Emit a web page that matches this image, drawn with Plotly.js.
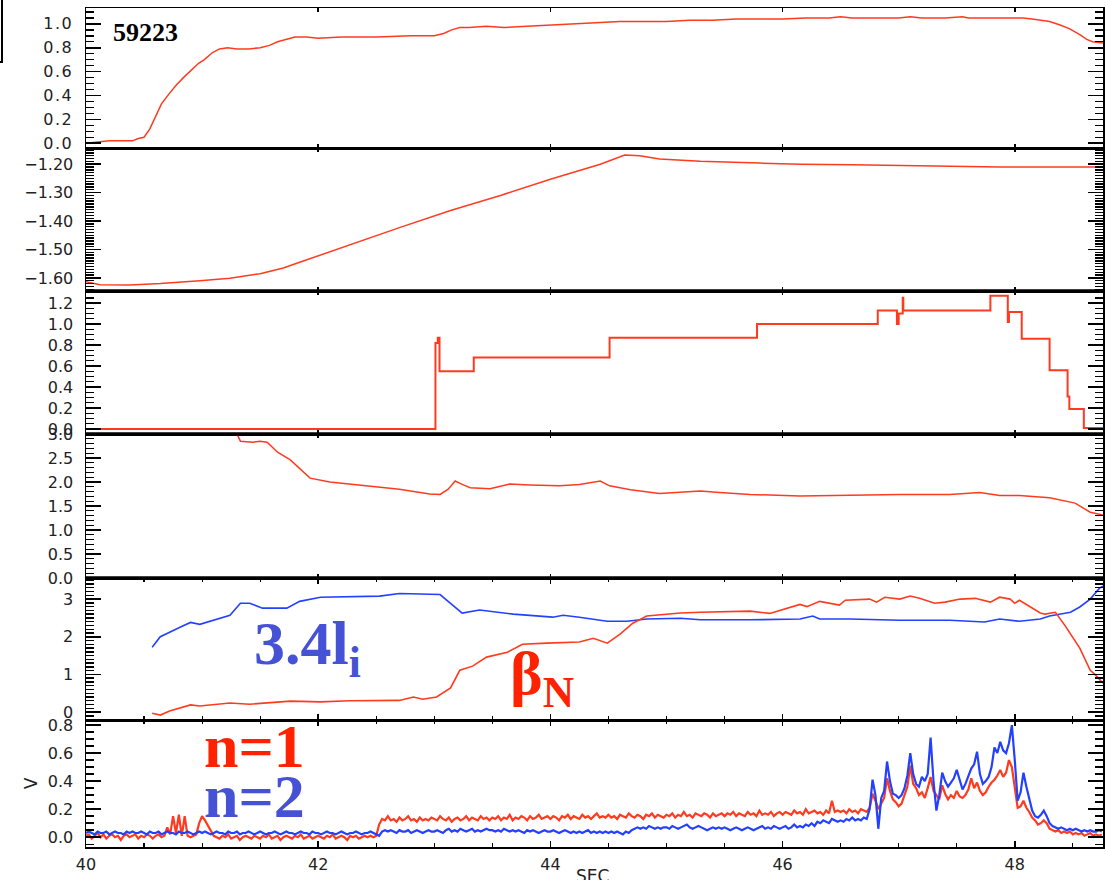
<!DOCTYPE html>
<html>
<head>
<meta charset="utf-8">
<script src="https://cdn.plot.ly/plotly-3.0.1.min.js"></script>
<style>
  html, body { margin: 0; padding: 0; background: #fff; }
  #plot { width: 1106px; height: 880px; }
  .xtick text, .ytick text { letter-spacing: 1.5px; }
</style>
</head>
<body>
<div id="plot"></div>
<script>
// Shot 59223: six stacked time traces against time in seconds.

const shotLabel = '59223';
const timeAxisTitle = 'SEC';

// Panel 1: plasma current (normalised)
const currentPts = [
  [40.00,0.00],[40.10,0.01],[40.20,0.02],[40.30,0.02],[40.40,0.02],[40.45,0.04],[40.50,0.05],
  [40.55,0.12],[40.60,0.22],[40.65,0.33],[40.72,0.42],[40.78,0.49],[40.85,0.56],[40.92,0.62],
  [40.97,0.67],[41.02,0.70],[41.09,0.76],[41.15,0.79],[41.22,0.80],[41.30,0.79],[41.40,0.79],
  [41.50,0.80],[41.58,0.82],[41.65,0.85],[41.72,0.87],[41.80,0.89],[41.90,0.89],[42.00,0.88],
  [42.20,0.89],[42.50,0.89],[42.80,0.90],[43.00,0.90],[43.08,0.92],[43.15,0.95],[43.22,0.97],
  [43.30,0.97],[43.45,0.98],[43.60,0.97],[43.80,0.98],[44.00,0.99],[44.20,1.00],[44.40,1.01],
  [44.60,1.02],[44.80,1.02],[45.00,1.02],[45.20,1.03],[45.40,1.03],[45.60,1.04],[45.80,1.04],
  [46.00,1.04],[46.20,1.05],[46.40,1.05],[46.50,1.06],[46.60,1.05],[46.80,1.05],[47.00,1.05],
  [47.10,1.06],[47.20,1.05],[47.40,1.05],[47.55,1.06],[47.60,1.05],[47.80,1.05],[48.00,1.05],
  [48.07,1.05],[48.15,1.04],[48.22,1.03],[48.30,1.02],[48.39,0.99],[48.47,0.96],[48.56,0.91],
  [48.62,0.87],[48.67,0.85],[48.76,0.84]
];

// Panel 2
const panel2Pts = [
  [40.00,-1.613],[40.12,-1.624],[40.38,-1.625],[40.64,-1.620],[40.98,-1.610],[41.24,-1.601],
  [41.50,-1.585],[41.70,-1.565],[41.84,-1.545],[42.27,-1.483],[42.70,-1.423],[43.14,-1.363],
  [43.57,-1.310],[44.00,-1.253],[44.43,-1.200],[44.64,-1.168],[44.77,-1.170],[44.94,-1.182],
  [45.29,-1.190],[45.80,-1.196],[46.15,-1.200],[46.60,-1.202],[47.01,-1.205],[47.50,-1.207],
  [47.87,-1.210],[48.30,-1.210],[48.76,-1.210]
];

// Panel 3: stepped programme (drawn with horizontal-then-vertical steps)
const stepPts = [
  [40.00,0.00],[43.010,0.82],[43.030,0.87],[43.045,0.55],[43.340,0.68],[44.510,0.87],
  [45.780,1.00],[46.820,1.13],[46.985,1.00],[47.000,1.10],[47.035,1.25],[47.040,1.13],
  [47.790,1.27],[47.940,1.02],[47.950,1.115],[48.060,0.86],[48.300,0.56],[48.455,0.31],
  [48.470,0.19],[48.595,0.01],[48.760,0.01]
];

// Panel 4
const panel4Pts = [
  [41.30,3.00],[41.33,2.85],[41.44,2.83],[41.50,2.85],[41.56,2.83],[41.65,2.62],[41.76,2.46],
  [41.84,2.29],[41.93,2.08],[42.10,2.00],[42.36,1.94],[42.70,1.85],[42.96,1.75],[43.05,1.74],
  [43.12,1.85],[43.18,2.02],[43.24,1.95],[43.31,1.88],[43.48,1.86],[43.65,1.96],[43.82,1.94],
  [44.08,1.92],[44.25,1.95],[44.43,2.02],[44.51,1.92],[44.69,1.84],[44.94,1.76],[45.29,1.81],
  [45.46,1.78],[45.72,1.74],[46.15,1.71],[46.58,1.73],[47.01,1.74],[47.44,1.74],[47.70,1.78],
  [47.87,1.72],[48.04,1.72],[48.30,1.67],[48.52,1.56],[48.65,1.37],[48.76,1.31]
];

// Panel 5: 3.4 li (blue) and beta_N (red)
const liPts = [
  [40.57,1.72],[40.64,2.00],[40.81,2.25],[40.90,2.38],[40.98,2.33],[41.09,2.44],[41.24,2.57],
  [41.33,2.89],[41.41,2.89],[41.52,2.76],[41.73,2.76],[41.84,2.94],[42.02,3.05],[42.53,3.08],
  [42.70,3.15],[43.05,3.12],[43.11,2.97],[43.24,2.63],[43.39,2.71],[43.68,2.60],[44.02,2.52],
  [44.11,2.57],[44.25,2.52],[44.49,2.41],[44.66,2.41],[44.83,2.47],[45.12,2.49],[45.29,2.45],
  [45.72,2.45],[46.15,2.47],[46.26,2.55],[46.32,2.47],[46.58,2.47],[47.01,2.44],[47.44,2.44],
  [47.74,2.39],[47.87,2.47],[48.04,2.41],[48.22,2.47],[48.30,2.55],[48.48,2.65],[48.56,2.79],
  [48.65,3.00],[48.73,3.29],[48.76,3.34]
];
const betaPts = [
  [40.57,-0.03],[40.64,-0.08],[40.72,0.03],[40.90,0.19],[40.98,0.16],[41.24,0.24],[41.41,0.21],
  [41.76,0.29],[42.02,0.27],[42.27,0.30],[42.70,0.31],[42.82,0.40],[42.90,0.34],[43.02,0.40],
  [43.14,0.64],[43.22,1.11],[43.33,1.22],[43.45,1.46],[43.63,1.59],[43.76,1.80],[43.97,1.83],
  [44.25,1.86],[44.37,1.96],[44.49,1.83],[44.60,2.07],[44.71,2.36],[44.83,2.55],[45.12,2.63],
  [45.29,2.65],[45.72,2.68],[45.89,2.62],[46.15,2.86],[46.21,2.80],[46.32,2.94],[46.49,2.84],
  [46.54,2.97],[46.75,3.00],[46.81,2.92],[46.88,3.05],[47.01,3.00],[47.10,3.08],[47.18,3.02],
  [47.31,2.89],[47.40,2.92],[47.53,3.00],[47.66,3.02],[47.79,2.92],[47.87,3.05],[47.96,3.00],
  [48.00,2.89],[48.04,2.97],[48.13,2.81],[48.22,2.63],[48.26,2.60],[48.35,2.65],[48.43,2.31],
  [48.52,1.91],[48.56,1.70],[48.65,1.11],[48.69,1.00],[48.76,0.77]
];

// Panel 6: mode amplitudes, sampled every 0.025 s from 40.0 s
const modeT0 = 40.0, modeDt = 0.025;
const n1Amp = [
  0.01,0.02,-0.01,0.01,0.03,0.00,0.02,-0.01,0.01,0.02,0.00,0.01,-0.02,0.01,0.02,0.00,0.01,0.02,-0.01,0.01,
  0.00,0.02,0.01,-0.01,0.01,0.02,0.00,0.01,0.07,0.02,0.15,0.03,0.16,0.01,0.15,0.01,0.00,0.01,0.02,0.10,
  0.15,0.12,0.08,0.04,0.01,0.00,-0.01,0.01,0.00,0.02,-0.01,0.00,0.01,-0.02,0.00,0.01,0.00,-0.01,0.01,0.00,
  -0.01,0.01,0.00,0.02,-0.01,0.00,0.01,-0.02,0.00,0.01,0.00,-0.01,0.01,0.00,0.02,-0.01,0.00,0.01,-0.01,0.00,
  0.01,0.00,-0.01,0.01,0.00,0.02,-0.01,0.00,0.01,0.00,-0.02,0.01,0.00,0.01,-0.01,0.00,0.01,0.00,0.01,0.00,
  0.01,0.09,0.13,0.12,0.15,0.12,0.13,0.11,0.14,0.12,0.13,0.15,0.12,0.13,0.11,0.14,0.12,0.13,0.12,0.14,
  0.13,0.12,0.15,0.13,0.12,0.14,0.11,0.13,0.14,0.12,0.13,0.15,0.12,0.14,0.13,0.12,0.15,0.13,0.14,0.12,
  0.14,0.13,0.15,0.12,0.14,0.13,0.16,0.12,0.14,0.13,0.15,0.14,0.12,0.15,0.13,0.14,0.16,0.13,0.14,0.15,
  0.13,0.15,0.14,0.12,0.15,0.14,0.16,0.13,0.15,0.14,0.13,0.16,0.14,0.15,0.13,0.15,0.17,0.14,0.15,0.14,
  0.16,0.14,0.15,0.13,0.16,0.15,0.14,0.17,0.15,0.14,0.16,0.15,0.13,0.16,0.15,0.17,0.14,0.16,0.15,0.14,
  0.16,0.15,0.17,0.14,0.16,0.15,0.18,0.15,0.16,0.14,0.17,0.16,0.15,0.17,0.16,0.14,0.17,0.15,0.16,0.17,
  0.15,0.17,0.16,0.18,0.15,0.17,0.16,0.15,0.18,0.16,0.17,0.15,0.19,0.16,0.17,0.16,0.18,0.15,0.17,0.18,
  0.16,0.18,0.17,0.16,0.19,0.17,0.18,0.16,0.20,0.17,0.18,0.19,0.17,0.18,0.16,0.19,0.17,0.26,0.18,0.19,
  0.18,0.19,0.17,0.20,0.18,0.19,0.17,0.20,0.19,0.18,0.21,0.31,0.26,0.20,0.24,0.28,0.42,0.33,0.27,0.25,
  0.22,0.24,0.30,0.36,0.51,0.38,0.35,0.30,0.32,0.28,0.35,0.43,0.33,0.30,0.27,0.37,0.31,0.27,0.30,0.28,
  0.33,0.29,0.28,0.30,0.34,0.42,0.35,0.39,0.33,0.30,0.32,0.36,0.39,0.41,0.44,0.48,0.43,0.46,0.55,0.50,
  0.35,0.21,0.22,0.26,0.21,0.18,0.14,0.12,0.09,0.10,0.12,0.10,0.06,0.05,0.04,0.05,0.03,0.04,0.03,0.04,
  0.02,0.03,0.02,0.03,0.01,0.02,0.03,0.01,0.02,0.01,0.02
];
const n2Amp = [
  0.03,0.04,0.03,0.02,0.04,0.03,0.03,0.04,0.02,0.03,0.04,0.03,0.03,0.02,0.04,0.03,0.04,0.03,0.03,0.04,
  0.03,0.02,0.04,0.03,0.03,0.04,0.02,0.03,0.04,0.03,0.03,0.02,0.04,0.03,0.03,0.04,0.03,0.02,0.03,0.04,
  0.03,0.04,0.03,0.02,0.03,0.04,0.03,0.03,0.02,0.04,0.03,0.03,0.04,0.02,0.03,0.03,0.04,0.03,0.02,0.03,
  0.04,0.03,0.02,0.03,0.03,0.04,0.03,0.02,0.03,0.04,0.03,0.03,0.02,0.03,0.04,0.03,0.03,0.02,0.04,0.03,
  0.03,0.02,0.03,0.04,0.03,0.03,0.02,0.03,0.04,0.03,0.02,0.03,0.03,0.04,0.03,0.02,0.03,0.03,0.04,0.03,
  0.02,0.01,0.04,0.05,0.04,0.05,0.04,0.03,0.05,0.04,0.04,0.05,0.03,0.04,0.05,0.04,0.03,0.04,0.05,0.04,
  0.04,0.05,0.04,0.03,0.05,0.06,0.04,0.05,0.04,0.06,0.05,0.04,0.05,0.06,0.04,0.05,0.04,0.05,0.06,0.05,
  0.05,0.04,0.05,0.04,0.06,0.05,0.04,0.05,0.04,0.05,0.04,0.03,0.05,0.04,0.05,0.04,0.03,0.04,0.05,0.04,
  0.04,0.05,0.04,0.03,0.04,0.05,0.04,0.03,0.04,0.03,0.04,0.03,0.04,0.05,0.03,0.04,0.03,0.04,0.03,0.04,
  0.03,0.04,0.03,0.04,0.03,0.02,0.04,0.03,0.05,0.06,0.07,0.06,0.07,0.06,0.08,0.07,0.06,0.07,0.06,0.07,
  0.07,0.06,0.08,0.07,0.06,0.07,0.08,0.09,0.07,0.06,0.07,0.08,0.07,0.06,0.05,0.06,0.07,0.06,0.07,0.06,
  0.07,0.06,0.05,0.06,0.07,0.06,0.05,0.06,0.07,0.06,0.05,0.06,0.07,0.08,0.06,0.07,0.06,0.08,0.07,0.06,
  0.07,0.08,0.06,0.07,0.09,0.07,0.08,0.07,0.09,0.08,0.10,0.08,0.11,0.10,0.12,0.11,0.10,0.13,0.12,0.11,
  0.12,0.11,0.13,0.12,0.14,0.12,0.13,0.12,0.14,0.13,0.20,0.41,0.30,0.06,0.28,0.33,0.54,0.40,0.31,0.30,
  0.28,0.30,0.35,0.44,0.60,0.45,0.38,0.36,0.43,0.40,0.45,0.71,0.40,0.19,0.30,0.46,0.40,0.36,0.39,0.42,
  0.48,0.40,0.34,0.38,0.44,0.49,0.52,0.61,0.45,0.38,0.40,0.43,0.50,0.64,0.60,0.68,0.62,0.60,0.67,0.80,
  0.55,0.26,0.32,0.46,0.36,0.28,0.19,0.15,0.14,0.16,0.19,0.15,0.10,0.08,0.07,0.06,0.07,0.06,0.05,0.06,
  0.05,0.06,0.05,0.04,0.05,0.04,0.05,0.04,0.04,0.05,0.04
];

// Axis tick settings
const timeRange = [40, 48.76];
const timeTickVals = [40, 42, 44, 46, 48];

const RED = '#ff3b1f';
const BLUE = '#2440ff';
const TXT_RED = '#ff2200';
const TXT_BLUE = '#4552d6';

const W = 1106, H = 880;
const px = v => v / W;
const py = v => 1 - v / H;

// panel pixel bounds (top, bottom)
const bounds = [[8,148],[148,291],[291,434],[434,578],[578,720],[720,847]];

const cols = pts => [pts.map(p => p[0]), pts.map(p => p[1])];
const modeTime = n1Amp.map((_, i) => +(modeT0 + i * modeDt).toFixed(3));

function line(pts, ax, color, width, shape) {
  const [x, y] = cols(pts);
  return { x, y, xaxis: 'x' + ax, yaxis: 'y' + ax, type: 'scatter', mode: 'lines',
    line: { color, width, shape: shape || 'linear' }, hoverinfo: 'skip' };
}

const traces = [
  line(currentPts, '', RED, 1.5),
  line(panel2Pts, '2', RED, 1.5),
  line(stepPts, '3', RED, 2, 'hv'),
  line(panel4Pts, '4', RED, 1.5),
  line(liPts, '5', BLUE, 1.6),
  line(betaPts, '5', RED, 1.6),
  { x: modeTime, y: n1Amp, xaxis: 'x6', yaxis: 'y6', type: 'scatter', mode: 'lines',
    line: { color: RED, width: 2.2 }, hoverinfo: 'skip' },
  { x: modeTime, y: n2Amp, xaxis: 'x6', yaxis: 'y6', type: 'scatter', mode: 'lines',
    line: { color: BLUE, width: 2.2 }, hoverinfo: 'skip' }
];

const tickFont = { family: 'DejaVu Sans', size: 16, color: '#222' };

function xAxis(i, withMinor, labels) {
  const ax = {
    domain: [px(86), px(1103)], range: timeRange, anchor: 'y' + (i === 1 ? '' : i),
    showline: true, linecolor: '#000', linewidth: 1.5, mirror: 'ticks',
    ticks: 'inside', ticklen: withMinor ? 6 : 4, tickwidth: 1.5, tickcolor: '#000',
    tickvals: timeTickVals, showticklabels: !!labels, tickfont: tickFont,
    showgrid: false, zeroline: false, fixedrange: true, automargin: false
  };
  if (i !== 1) ax.matches = 'x';
  if (withMinor) ax.minor = { dtick: 0.5, tick0: 40, ticks: 'inside', ticklen: 4, tickwidth: 1.2, tickcolor: '#000', showgrid: false };
  if (labels) ax.ticklabelstandoff = 2;
  return ax;
}

function yAxis(i, range, dtick, fmt, minorDtick, title) {
  const [t, b] = bounds[i - 1];
  const ax = {
    domain: [py(b), py(t)], range, anchor: 'x' + (i === 1 ? '' : i),
    showline: true, linecolor: '#000', linewidth: 1.5, mirror: 'ticks',
    ticks: 'inside', ticklen: 15, tickwidth: 1.6, tickcolor: '#000',
    dtick, tick0: 0, tickformat: fmt, tickfont: tickFont, ticklabelstandoff: 8,
    minor: { dtick: minorDtick, tick0: 0, ticks: 'inside', ticklen: 8, tickwidth: 1.4, tickcolor: '#000', showgrid: false },
    showgrid: false, zeroline: false, fixedrange: true, automargin: false
  };
  if (title) {
    ax.title = { text: title, font: { family: 'DejaVu Sans', size: 17, color: '#222' }, standoff: 6 };
  }
  return ax;
}

const layout = {
  width: W, height: H,
  margin: { l: 0, r: 0, t: 0, b: 0 },
  paper_bgcolor: '#fff', plot_bgcolor: '#fff',
  showlegend: false,
  xaxis: xAxis(1, false, false),
  xaxis2: xAxis(2, false, false),
  xaxis3: xAxis(3, false, false),
  xaxis4: xAxis(4, false, false),
  xaxis5: xAxis(5, true, false),
  xaxis6: xAxis(6, true, true),
  yaxis: yAxis(1, [-0.04, 1.133], 0.2, '.1f', 0.05),
  yaxis2: yAxis(2, [-1.646, -1.143], 0.1, '.2f', 0.01),
  yaxis3: yAxis(3, [-0.048, 1.315], 0.2, '.1f', 0.05),
  yaxis4: yAxis(4, [0, 3.0], 0.5, '.1f', 0.1),
  yaxis5: yAxis(5, [-0.21, 3.56], 1, 'd', 0.1),
  yaxis6: yAxis(6, [-0.07, 0.836], 0.2, '.1f', 0.05, 'V'),
  shapes: [
    // heavier separators between the middle panels
    ...[291, 434, 578].map(y => ({
      type: 'line', xref: 'paper', yref: 'paper',
      x0: px(85), x1: px(1104), y0: py(y), y1: py(y),
      line: { color: '#000', width: 3.5 }
    })),
    { type: 'path', xref: 'paper', yref: 'paper',
      path: `M ${px(0)} ${py(62)} L ${px(2)} ${py(62)} L ${px(2)} ${py(0)}`,
      line: { color: '#000', width: 2 } }
  ],
  annotations: [
    { text: timeAxisTitle, xref: 'paper', yref: 'paper', x: px(592), y: py(880),
      xanchor: 'center', yanchor: 'bottom', yshift: -8, showarrow: false,
      font: { family: 'DejaVu Sans', size: 17, color: '#222' } },
    { text: '<b>' + shotLabel + '</b>', xref: 'paper', yref: 'paper', x: px(111), y: py(32),
      xanchor: 'left', yanchor: 'middle', showarrow: false,
      font: { family: 'Liberation Serif', size: 26, color: '#000' } },
    { text: '<b>3.4l<sub>i</sub></b>', xref: 'paper', yref: 'paper', x: px(252), y: py(647),
      xanchor: 'left', yanchor: 'middle', showarrow: false,
      font: { family: 'Liberation Serif', size: 62, color: TXT_BLUE } },
    { text: '<b>β<sub>N</sub></b>', xref: 'paper', yref: 'paper', x: px(508), y: py(677),
      xanchor: 'left', yanchor: 'middle', showarrow: false,
      font: { family: 'Liberation Serif', size: 62, color: TXT_RED } },
    { text: '<b>n=1</b>', xref: 'paper', yref: 'paper', x: px(202), y: py(746),
      xanchor: 'left', yanchor: 'middle', showarrow: false,
      font: { family: 'Liberation Serif', size: 62, color: TXT_RED } },
    { text: '<b>n=2</b>', xref: 'paper', yref: 'paper', x: px(202), y: py(796),
      xanchor: 'left', yanchor: 'middle', showarrow: false,
      font: { family: 'Liberation Serif', size: 62, color: TXT_BLUE } }
  ]
};

Plotly.newPlot('plot', traces, layout, { staticPlot: true, displayModeBar: false });
</script>
</body>
</html>
